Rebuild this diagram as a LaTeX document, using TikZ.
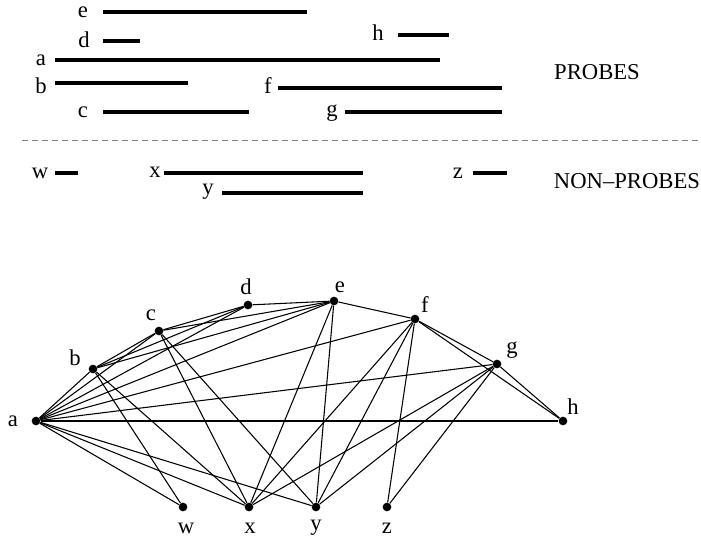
\documentclass[tikz,border=0pt]{standalone}
\usepackage{fontspec}
\setmainfont{Liberation Serif}
\usetikzlibrary{positioning}
\tikzset{
  lbl/.style={inner sep=0pt,font=\fontsize{17}{20}\selectfont},
  bar/.style={line width=2.4pt},
  vtx/.style={circle,fill=black,inner sep=0pt,minimum size=6.5pt},
  edge/.style={line width=0.8pt},
}
\begin{document}
\begin{tikzpicture}[x=0.75pt,y=-0.75pt]
\useasboundingbox (0,0) rectangle (701,540);
% intervals
\foreach \n/\lx/\ly/\by/\s/\e in {e/83/12/12/103/307, d/84/40/41/103/140, h/378/33/35/398/449,
  a/41/60/60/55/440, b/41/86/83/55/188, f/268/86/88/278/502, c/83/112/112/103/249, g/332/113/112/345/502,
  w/40/173/173/55/78, x/155/172/173/164/363, z/458/173/173/473/507, y/208/192/193/222/363} {
  \node[lbl] (i\n) at (\lx,\ly) {\n};
  \draw[bar] (\s,\by) -- (\e,\by);
}
\draw[dashed,gray,line width=0.6pt,dash pattern=on 4.5pt off 3pt] (22,140) -- (700,140);
\node[lbl] (probes) at (597,72) {PROBES};
\node[lbl] (nonprobes) at (627,181) {NON--PROBES};
% graph
\foreach \n/\x/\y/\lx/\ly in {a/36/421/13/421, b/93/369/75/358, c/159/331/151/315, d/248/305/246/287,
  e/334/301/340/287, f/415/319/425/305, g/497/364/512/350, h/563/421/573/407,
  w/183/507/186/528, x/249/507/250/528, y/316/507/316/528, z/387/507/387/528} {
  \node[vtx] (\n) at (\x,\y) {};
  \node[lbl] (t\n) at (\lx,\ly) {\n};
}
\foreach \u/\v in {a/b,a/c,a/d,a/e,a/f,a/g,a/h,a/w,a/x,a/y,
  b/c,b/d,b/e,b/w,b/x, c/d,c/e,c/x,c/y, d/e, e/f,e/x,e/y,
  f/g,f/h,f/x,f/y,f/z, g/h,g/x,g/y,g/z}
  \draw[edge] (\u) -- (\v);
\end{tikzpicture}
\end{document}
